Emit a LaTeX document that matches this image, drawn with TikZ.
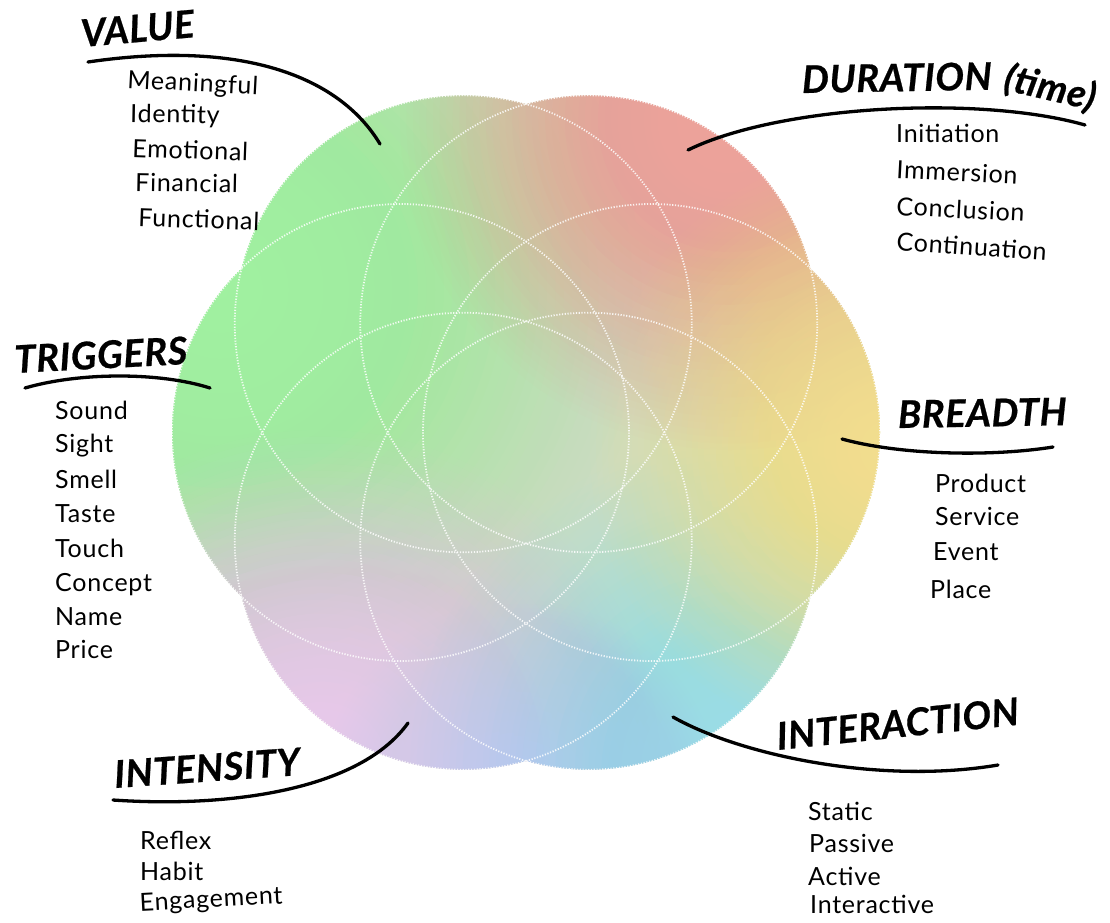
\documentclass[tikz,border=0pt]{standalone}
\usepackage{fontspec}
\setmainfont{Lato}[LetterSpace=3]
\newfontfamily\headfont{Lato}[LetterSpace=1.5, FakeBold=0.6]
\usepackage{graphicx}
\usepackage{xcolor}
\usetikzlibrary{calc}

\definecolor{core}{HTML}{CDDCC2}
\definecolor{fresh}{HTML}{A0FCA0}
\definecolor{warmred}{HTML}{FAA29A}
\definecolor{sunny}{HTML}{FFE68E}
\definecolor{sky}{HTML}{9ADCF4}
\definecolor{blush}{HTML}{F4C8F8}
\definecolor{lilac}{HTML}{D4CCFA}

\tikzstyle{petal} = [white, line width=1.8pt, dash pattern=on 1.2pt off 1.6pt, opacity=0.85]
\tikzstyle{swoosh} = [line width=3.3pt, black, line cap=round]
\tikzstyle{heading} = [anchor=base west, inner sep=0pt,
    font=\headfont\fontsize{38}{40}\selectfont\bfseries\itshape]
\tikzstyle{entry} = [anchor=base west, inner sep=0pt,
    font=\fontsize{25}{27}\selectfont]

\begin{document}
\begin{tikzpicture}[x=1pt, y=-1pt]
    \useasboundingbox (0,0) rectangle (1110,922);

    % petal centres
    \coordinate (mid) at (526,432.5);
    \foreach \a [count=\i] in {0,60,...,300}
        \coordinate (p\i) at ($(mid)+(\a:125.5)$);

    % colour wash inside the flower: each glow is a stack of faint discs,
    % fainter towards the rim so that no edge shows
    \begin{scope}
        \clip (p1) circle (228.5) (p2) circle (228.5) (p3) circle (228.5)
              (p4) circle (228.5) (p5) circle (228.5) (p6) circle (228.5);
        \fill[core] (150,50) rectangle (900,800);
        \foreach \c/\x/\y/\r in {fresh/220/290/430, blush/320/770/340,
                lilac/520/800/200, sky/740/770/330, warmred/730/120/330,
                sunny/890/450/300}
            \foreach \k in {1,...,50} {
                \pgfmathsetmacro\op{0.02+0.09*(1-\k/50)}
                \fill[\c, opacity=\op] (\x,\y) circle ({\r/50*\k});
            }
    \end{scope}

    \foreach \i in {1,...,6}
        \draw[petal] (p\i) circle (228.5);

    % VALUE
    \node[heading, rotate=5] (value) at (82,47) {VALUE};
    \node[entry, rotate=-3] (val1) at (127,88) {Meaningful};
    \node[entry, rotate=-1] (val2) at (130,122) {Identity};
    \node[entry, rotate=-2] (val3) at (132,157) {Emotional};
    \node[entry, rotate=-1] (val4) at (135,191) {Financial};
    \node[entry, rotate=-2] (val5) at (138,226) {Functional};
    \coordinate (value-a) at (88,62);
    \coordinate (value-b) at (380,144);
    \draw[swoosh] (value-a) .. controls (238,40) and (338,74) .. (value-b);

    % DURATION
    \node[heading, rotate=1] (duration) at (802,93) {DURATION \rotatebox{-14}{(time)}};
    \node[entry] (dur1) at (896,142) {Initiation};
    \node[entry, rotate=-3] (dur2) at (896,178) {Immersion};
    \node[entry, rotate=-3] (dur3) at (896,215) {Conclusion};
    \node[entry, rotate=-4] (dur4) at (896,250) {Continuation};
    \coordinate (duration-a) at (688,150);
    \coordinate (duration-b) at (1085,125);
    \draw[swoosh] (duration-a) .. controls (780,105) and (980,95) .. (duration-b);

    % TRIGGERS
    \node[heading, rotate=3] (triggers) at (15,373) {TRIGGERS};
    \node[entry] (trg1) at (55,419) {Sound};
    \node[entry] (trg2) at (55,452) {Sight};
    \node[entry] (trg3) at (55,488) {Smell};
    \node[entry] (trg4) at (55,522) {Taste};
    \node[entry] (trg5) at (55,557) {Touch};
    \node[entry] (trg6) at (55,591) {Concept};
    \node[entry] (trg7) at (55,625) {Name};
    \node[entry] (trg8) at (55,658) {Price};
    \coordinate (triggers-a) at (25,388);
    \coordinate (triggers-b) at (210,388);
    \draw[swoosh] (triggers-a) .. controls (80,372) and (160,372) .. (triggers-b);

    % BREADTH
    \node[heading, rotate=1] (breadth) at (898,428) {BREADTH};
    \node[entry] (brd1) at (935,492) {Product};
    \node[entry] (brd2) at (935,525) {Service};
    \node[entry] (brd3) at (933,560) {Event};
    \node[entry] (brd4) at (930,598) {Place};
    \coordinate (breadth-a) at (842,439);
    \coordinate (breadth-b) at (1053,447);
    \draw[swoosh] (breadth-a) .. controls (900,455) and (990,457) .. (breadth-b);

    % INTENSITY
    \node[heading, rotate=4] (intensity) at (115,788) {INTENSITY};
    \node[entry] (ins1) at (140,849) {Reflex};
    \node[entry] (ins2) at (140,880) {Habit};
    \node[entry, rotate=3] (ins3) at (140,911) {Engagement};
    \coordinate (intensity-a) at (113,800);
    \coordinate (intensity-b) at (408,723);
    \draw[swoosh] (intensity-a) .. controls (230,808) and (360,790) .. (intensity-b);

    % INTERACTION
    \node[heading, rotate=6] (interaction) at (778,750) {INTERACTION};
    \node[entry] (act1) at (808,820) {Static};
    \node[entry] (act2) at (809,852) {Passive};
    \node[entry] (act3) at (808,885) {Active};
    \node[entry] (act4) at (810,913) {Interactive};
    \coordinate (interaction-a) at (673,717);
    \coordinate (interaction-b) at (998,765);
    \draw[swoosh] (interaction-a) .. controls (740,755) and (880,785) .. (interaction-b);
\end{tikzpicture}
\end{document}
